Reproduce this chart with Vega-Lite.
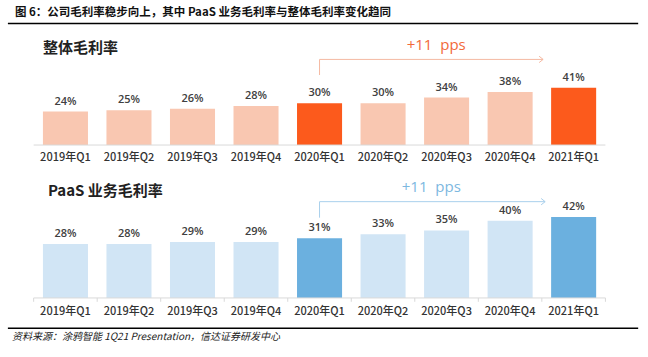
{
  "$schema": "https://vega.github.io/schema/vega-lite/v6.json",
  "width": 648,
  "height": 357,
  "autosize": {"type": "fit", "contains": "padding"},
  "padding": 0,
  "background": "white",
  "config": {"view": {"stroke": null}, "font": "Noto Sans CJK SC"},
  "datasets": {
    "q": [
      {"cat": "2019年Q1", "total": 0.24, "paas": 0.28},
      {"cat": "2019年Q2", "total": 0.25, "paas": 0.28},
      {"cat": "2019年Q3", "total": 0.26, "paas": 0.29},
      {"cat": "2019年Q4", "total": 0.28, "paas": 0.29},
      {"cat": "2020年Q1", "total": 0.30, "paas": 0.31},
      {"cat": "2020年Q2", "total": 0.30, "paas": 0.33},
      {"cat": "2020年Q3", "total": 0.34, "paas": 0.35},
      {"cat": "2020年Q4", "total": 0.38, "paas": 0.40},
      {"cat": "2021年Q1", "total": 0.41, "paas": 0.42}
    ]
  },
  "resolve": {"scale": {"y": "independent"}},
  "layer": [
    {
      "layer": [
        {
          "data": {"name": "q"},
          "mark": {"type": "bar"},
          "encoding": {
            "x": {"field": "cat", "type": "nominal", "axis": null,
                  "scale": {"type": "band", "paddingInner": 0.291, "paddingOuter": 0.746, "align": 0.453}},
            "y": {"field": "total", "type": "quantitative", "axis": null, "scale": {"domain": [-1.52, 1.04]}},
            "y2": {"datum": 0},
            "color": {"condition": {"test": "datum.cat === '2020年Q1' || datum.cat === '2021年Q1'", "value": "#FC5A1C"}, "value": "#F9C7B1"}
          }
        },
        {
          "data": {"name": "q"},
          "mark": {"type": "text", "dy": -10, "baseline": "middle", "font": "Open Sans", "fontSize": 11, "fontWeight": 600, "color": "#404040"},
          "encoding": {
            "x": {"field": "cat", "type": "nominal"},
            "y": {"field": "total", "type": "quantitative", "scale": {"domain": [-1.52, 1.04]}},
            "text": {"field": "total", "format": ".0%"}
          }
        },
        {
          "data": {"name": "q"},
          "mark": {"type": "text", "baseline": "middle", "fontSize": 11, "fontWeight": 500, "color": "#333333"},
          "encoding": {
            "x": {"field": "cat", "type": "nominal"},
            "y": {"datum": -0.093, "scale": {"domain": [-1.52, 1.04]}},
            "text": {"field": "cat"}
          }
        },
        {
          "data": {"values": [{}]},
          "mark": {"type": "rule", "color": "#D9D9D9", "strokeWidth": 1},
          "encoding": {
            "x": {"datum": "2019年Q1", "bandPosition": -0.206},
            "x2": {"datum": "2021年Q1", "bandPosition": 1.206},
            "y": {"datum": 0, "scale": {"domain": [-1.52, 1.04]}}
          }
        },
        {
          "data": {"values": [{"t": "图\u00a06：公司毛利率稳步向上，其中\u00a0PaaS\u00a0业务毛利率与整体毛利率变化趋同"}]},
          "mark": {"type": "text", "align": "left", "baseline": "middle", "fontSize": 11.5, "fontWeight": "bold", "color": "#111111"},
          "encoding": {
            "x": {"datum": "2019年Q1", "bandPosition": -0.622},
            "y": {"datum": 0.944, "scale": {"domain": [-1.52, 1.04]}},
            "text": {"field": "t"}
          }
        },
        {
          "data": {"values": [{}]},
          "mark": {"type": "rule", "color": "#000000", "strokeWidth": 1.5},
          "encoding": {
            "x": {"datum": "2019年Q1", "bandPosition": -0.778},
            "x2": {"datum": "2021年Q1", "bandPosition": 1.933},
            "y": {"datum": 0.872, "scale": {"domain": [-1.52, 1.04]}}
          }
        },
        {
          "data": {"values": [{"t": "整体毛利率"}]},
          "mark": {"type": "text", "align": "left", "baseline": "middle", "fontSize": 15, "fontWeight": "bold", "color": "#222222"},
          "encoding": {
            "x": {"datum": "2019年Q1", "bandPosition": 0},
            "y": {"datum": 0.695, "scale": {"domain": [-1.52, 1.04]}},
            "text": {"field": "t"}
          }
        },
        {
          "data": {"values": [{"t": "+11\u00a0\u00a0pps"}]},
          "mark": {"type": "text", "align": "center", "baseline": "middle", "font": "Open Sans", "fontSize": 15, "color": "#F26A3A"},
          "encoding": {
            "x": {"datum": "2020年Q3", "bandPosition": 0.27},
            "y": {"datum": 0.717, "scale": {"domain": [-1.52, 1.04]}},
            "text": {"field": "t"}
          }
        },
        {
          "data": {"values": [{}]},
          "mark": {"type": "rule", "color": "#F5B9A2", "strokeWidth": 1},
          "encoding": {
            "x": {"datum": "2020年Q1", "bandPosition": 0.5},
            "x2": {"datum": "2021年Q1", "bandPosition": -0.178},
            "y": {"datum": 0.614, "scale": {"domain": [-1.52, 1.04]}}
          }
        },
        {
          "data": {"values": [{}]},
          "mark": {"type": "rule", "color": "#F5B9A2", "strokeWidth": 1},
          "encoding": {
            "x": {"datum": "2020年Q1", "bandPosition": 0.5},
            "y": {"datum": 0.614, "scale": {"domain": [-1.52, 1.04]}},
            "y2": {"datum": 0.502}
          }
        },
        {
          "data": {"values": [{}]},
          "mark": {"type": "point", "shape": "M-1,-0.8L0,0L-1,0.8", "size": 64, "filled": false, "stroke": "#F5B9A2", "strokeWidth": 1, "opacity": 1},
          "encoding": {
            "x": {"datum": "2021年Q1", "bandPosition": -0.178},
            "y": {"datum": 0.614, "scale": {"domain": [-1.52, 1.04]}}
          }
        }
      ]
    },
    {
      "layer": [
        {
          "data": {"name": "q"},
          "mark": {"type": "bar"},
          "encoding": {
            "x": {"field": "cat", "type": "nominal", "axis": null},
            "y": {"field": "paas", "type": "quantitative", "axis": null, "scale": {"domain": [-0.306, 1.544]}},
            "y2": {"datum": 0},
            "color": {"condition": {"test": "datum.cat === '2020年Q1' || datum.cat === '2021年Q1'", "value": "#6BB0DF"}, "value": "#D1E5F5"}
          }
        },
        {
          "data": {"name": "q"},
          "mark": {"type": "text", "dy": -10, "baseline": "middle", "font": "Open Sans", "fontSize": 11, "fontWeight": 600, "color": "#404040"},
          "encoding": {
            "x": {"field": "cat", "type": "nominal"},
            "y": {"field": "paas", "type": "quantitative", "scale": {"domain": [-0.306, 1.544]}},
            "text": {"field": "paas", "format": ".0%"}
          }
        },
        {
          "data": {"name": "q"},
          "mark": {"type": "text", "baseline": "middle", "fontSize": 11, "fontWeight": 500, "color": "#333333"},
          "encoding": {
            "x": {"field": "cat", "type": "nominal"},
            "y": {"datum": -0.0725, "scale": {"domain": [-0.306, 1.544]}},
            "text": {"field": "cat"}
          }
        },
        {
          "data": {"values": [{}]},
          "mark": {"type": "rule", "color": "#D9D9D9", "strokeWidth": 1},
          "encoding": {
            "x": {"datum": "2019年Q1", "bandPosition": -0.206},
            "x2": {"datum": "2021年Q1", "bandPosition": 1.206},
            "y": {"datum": 0, "scale": {"domain": [-0.306, 1.544]}}
          }
        },
        {
          "data": {"name": "q"},
          "mark": {"type": "rule", "color": "#D9D9D9", "strokeWidth": 1},
          "encoding": {
            "x": {"field": "cat", "type": "nominal", "bandPosition": -0.206},
            "y": {"datum": 0, "scale": {"domain": [-0.306, 1.544]}},
            "y2": {"datum": -0.02}
          }
        },
        {
          "data": {"values": [{}]},
          "mark": {"type": "rule", "color": "#D9D9D9", "strokeWidth": 1},
          "encoding": {
            "x": {"datum": "2021年Q1", "bandPosition": 1.206},
            "y": {"datum": 0, "scale": {"domain": [-0.306, 1.544]}},
            "y2": {"datum": -0.02}
          }
        },
        {
          "data": {"values": [{"t": "PaaS\u00a0业务毛利率"}]},
          "mark": {"type": "text", "align": "left", "baseline": "middle", "fontSize": 15, "fontWeight": "bold", "color": "#222222"},
          "encoding": {
            "x": {"datum": "2019年Q1", "bandPosition": 0.11},
            "y": {"datum": 0.554, "scale": {"domain": [-0.306, 1.544]}},
            "text": {"field": "t"}
          }
        },
        {
          "data": {"values": [{"t": "+11\u00a0\u00a0pps"}]},
          "mark": {"type": "text", "align": "center", "baseline": "middle", "font": "Open Sans", "fontSize": 15, "color": "#7DB8DF"},
          "encoding": {
            "x": {"datum": "2020年Q3", "bandPosition": 0.16},
            "y": {"datum": 0.577, "scale": {"domain": [-0.306, 1.544]}},
            "text": {"field": "t"}
          }
        },
        {
          "data": {"values": [{}]},
          "mark": {"type": "rule", "color": "#A9D0EC", "strokeWidth": 1},
          "encoding": {
            "x": {"datum": "2020年Q1", "bandPosition": 0.5},
            "x2": {"datum": "2021年Q1", "bandPosition": -0.133},
            "y": {"datum": 0.499, "scale": {"domain": [-0.306, 1.544]}}
          }
        },
        {
          "data": {"values": [{}]},
          "mark": {"type": "rule", "color": "#A9D0EC", "strokeWidth": 1},
          "encoding": {
            "x": {"datum": "2020年Q1", "bandPosition": 0.5},
            "y": {"datum": 0.499, "scale": {"domain": [-0.306, 1.544]}},
            "y2": {"datum": 0.416}
          }
        },
        {
          "data": {"values": [{}]},
          "mark": {"type": "point", "shape": "M-1,-0.8L0,0L-1,0.8", "size": 64, "filled": false, "stroke": "#A9D0EC", "strokeWidth": 1, "opacity": 1},
          "encoding": {
            "x": {"datum": "2021年Q1", "bandPosition": -0.133},
            "y": {"datum": 0.499, "scale": {"domain": [-0.306, 1.544]}}
          }
        },
        {
          "data": {"values": [{}]},
          "mark": {"type": "rule", "color": "#000000", "strokeWidth": 1.5},
          "encoding": {
            "x": {"datum": "2019年Q1", "bandPosition": -0.778},
            "x2": {"datum": "2021年Q1", "bandPosition": 1.933},
            "y": {"datum": -0.157, "scale": {"domain": [-0.306, 1.544]}}
          }
        },
        {
          "data": {"values": [{"t": "资料来源：涂鸦智能 1Q21 Presentation，信达证券研发中心"}]},
          "mark": {"type": "text", "align": "left", "baseline": "middle", "fontSize": 10, "fontStyle": "italic", "color": "#222222"},
          "encoding": {
            "x": {"datum": "2019年Q1", "bandPosition": -0.689},
            "y": {"datum": -0.2005, "scale": {"domain": [-0.306, 1.544]}},
            "text": {"field": "t"}
          }
        }
      ]
    }
  ]
}
